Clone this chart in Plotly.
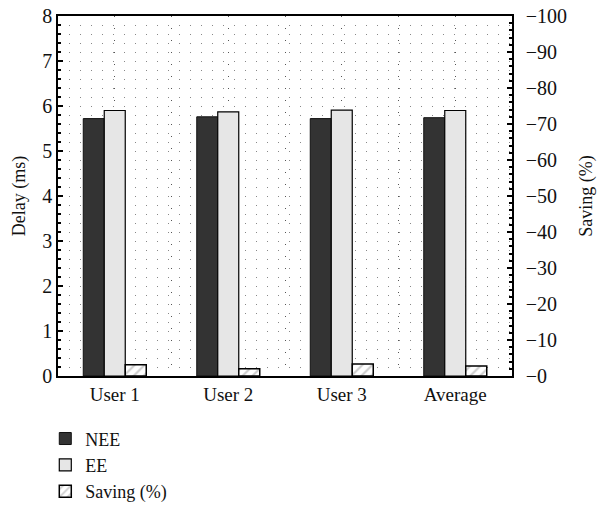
import plotly.graph_objects as go

categories = ["User 1", "User 2", "User 3", "Average"]
nee_delay = [5.72, 5.76, 5.72, 5.74]
ee_delay = [5.90, 5.87, 5.91, 5.90]
saving_pct = [3.1, 2.0, 3.3, 2.8]
left_ticks = [0, 1, 2, 3, 4, 5, 6, 7, 8]
right_ticks = [0, 10, 20, 30, 40, 50, 60, 70, 80, 90, 100]
right_ticktext = ["\u2212" + str(v) for v in right_ticks]

xpos = list(range(len(categories)))
W = 0.185
FONT = "Liberation Serif"

fig = go.Figure()
fig.add_trace(go.Bar(x=xpos, y=nee_delay, name="NEE", width=W, offset=-1.5 * W,
                     marker=dict(color="#333333", line=dict(color="#111111", width=1))))
fig.add_trace(go.Bar(x=xpos, y=ee_delay, name="EE", width=W, offset=-0.5 * W,
                     marker=dict(color="#e6e6e6", line=dict(color="#000000", width=1.2))))
fig.add_trace(go.Bar(x=xpos, y=saving_pct, name="Saving (%)", width=W, offset=0.5 * W,
                     yaxis="y2",
                     marker=dict(color="#ffffff", line=dict(color="#000000", width=1.5),
                                 pattern=dict(shape="/", fgcolor="#999999", bgcolor="#ffffff",
                                              size=7, solidity=0.3))))

grid = dict(gridcolor="#888888", griddash="1px,10px", gridwidth=1)

fig.update_layout(
    width=597, height=521,
    margin=dict(l=58, r=85, t=16, b=144),
    plot_bgcolor="white", paper_bgcolor="white",
    font=dict(family=FONT, size=18, color="#111111"),
    showlegend=True,
    legend=dict(x=-0.028, y=-0.12, xanchor="left", yanchor="top",
                font=dict(family=FONT, size=18, color="#111111"),
                tracegroupgap=0, itemwidth=30, bgcolor="rgba(0,0,0,0)"),
    xaxis=dict(
        range=[-0.5, len(categories) - 0.5], automargin=False,
        tickvals=xpos, ticktext=categories,
        showline=True, linecolor="#000000", linewidth=1.5, mirror=True,
        ticks="", zeroline=False,
        showgrid=True, gridcolor="#555555", griddash="1px,11px", gridwidth=1,
        minor=dict(dtick=0.5, tick0=-0.5, showgrid=True, gridcolor="#555555",
                   griddash="1px,11px", gridwidth=1, ticks=""),
        tickfont=dict(size=19),
    ),
    yaxis=dict(
        range=[0, 8], tickvals=left_ticks, automargin=False,
        title=dict(text="Delay (ms)", font=dict(size=18), standoff=12),
        showline=True, linecolor="#000000", linewidth=1.5,
        ticks="inside", ticklen=5, tickwidth=1.5, tickcolor="#000000",
        zeroline=False, showgrid=True, **grid,
        minor=dict(dtick=0.2, showgrid=True, ticks="inside", ticklen=3,
                   tickcolor="#000000", **grid),
        tickfont=dict(size=20),
    ),
    yaxis2=dict(
        range=[0, 100], tickvals=right_ticks, ticktext=right_ticktext,
        overlaying="y", side="right", automargin=False,
        title=dict(text="Saving (%)", font=dict(size=18), standoff=20),
        showline=True, linecolor="#000000", linewidth=1.5,
        ticks="inside", ticklen=5, tickwidth=1.5, tickcolor="#000000",
        zeroline=False, showgrid=False,
        minor=dict(dtick=2, ticks="inside", ticklen=3, tickcolor="#000000"),
        tickfont=dict(size=20), ticklabelstandoff=8,
    ),
)

fig.write_html("out.html", config={"displayModeBar": False},
               post_script="document.body.style.margin='0';")
